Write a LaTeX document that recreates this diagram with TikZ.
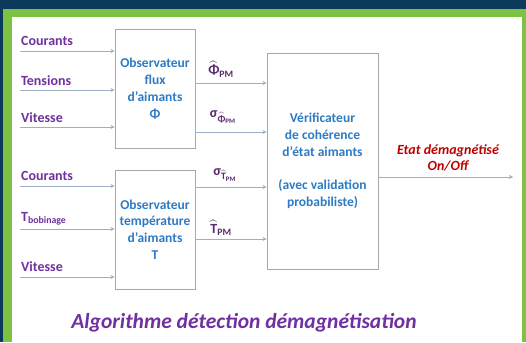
\documentclass[tikz,border=0pt]{standalone}
\usepackage{amsmath}
\usepackage{fontspec}
\setmainfont{Carlito}
\usetikzlibrary{arrows.meta}
\definecolor{navyback}{HTML}{0B3A5C}
\definecolor{greenframe}{HTML}{7DC242}
\definecolor{inpurple}{HTML}{7030A0}
\definecolor{outpurple}{HTML}{5A2A6E}
\definecolor{boxblue}{HTML}{2E7BC4}
\definecolor{statered}{HTML}{C00000}
\definecolor{linegrey}{HTML}{9DAEC8}
\definecolor{boxgrey}{HTML}{A8A8A8}
\newcommand\hatof[1]{\ensuremath{\widehat{\text{#1}}}}
\begin{document}
\begin{tikzpicture}[x=1pt, y=-1pt,
  every node/.style={align=center, font=\fontsize{13.5}{16.8}\selectfont\bfseries},
  block/.style={draw=boxgrey, thick, fill=white, text=boxblue},
  inlabel/.style={anchor=west, inpurple, inner sep=0pt, font=\fontsize{14}{16}\selectfont\bfseries},
  outlabel/.style={outpurple, inner sep=0pt, font=\fontsize{14}{16}\selectfont\bfseries},
  flow/.style={draw=linegrey, thick, -{Stealth[length=4pt, width=4pt]}}]
  \useasboundingbox (0,0) rectangle (526,342);
  \fill[navyback] (0,0) rectangle (526,342);
  \fill[greenframe] (3,9) rectangle (526,342);
  \fill[white] (12,17) rectangle (522,342);

  \node[block, minimum width=80pt, minimum height=119pt] (flux) at (155, 88.5) {Observateur\\flux\\d'aimants\\Φ};
  \node[block, minimum width=80pt, minimum height=119pt] (temp) at (155, 229.5) {Observateur\\température\\d'aimants\\T};
  \node[block, minimum width=111pt, minimum height=216pt] (verif) at (322.5, 161) {Vérificateur\\de cohérence\\d'état aimants\\[1.2em](avec validation\\probabiliste)};

  \coordinate (cour1) at (20, 51);
  \coordinate (tens) at (20, 90);
  \coordinate (vit1) at (20, 127);
  \coordinate (cour2) at (20, 186);
  \coordinate (tbob) at (20, 229);
  \coordinate (vit2) at (20, 277);
  \node[inlabel] (lcour1) at (21, 41) {Courants};
  \node[inlabel] (ltens) at (21, 81) {Tensions};
  \node[inlabel] (lvit1) at (21, 118) {Vitesse};
  \node[inlabel] (lcour2) at (21, 176) {Courants};
  \node[inlabel] (ltbob) at (21, 219) {T\textsubscript{bobinage}};
  \node[inlabel] (lvit2) at (21, 267) {Vitesse};
  \foreach \c/\b in {cour1/flux, tens/flux, vit1/flux, cour2/temp, tbob/temp, vit2/temp}
    \draw[flow] (\c) -- (\c -| \b.west);

  \draw[flow] (flux.east |- 0,83) -- (verif.west |- 0,83);
  \draw[flow] (flux.east |- 0,132) -- (verif.west |- 0,132);
  \draw[flow] (temp.east |- 0,187) -- (verif.west |- 0,187);
  \draw[flow] (temp.east |- 0,239) -- (verif.west |- 0,239);
  \node[outlabel] (phihat) at (221, 69) {\hatof{Φ}\textsubscript{PM}};
  \node[outlabel] (sigphi) at (223, 117) {σ\textsubscript{\hatof{Φ}\textsubscript{PM}}};
  \node[outlabel] (sigt) at (225, 175) {σ\textsubscript{\hatof{T}\textsubscript{PM}}};
  \node[outlabel] (that) at (221, 228) {\hatof{T}\textsubscript{PM}};

  \coordinate (etat) at (513, 177);
  \draw[flow] (verif.east |- etat) -- (etat);
  \node[statered, font=\fontsize{14}{16.5}\selectfont\bfseries\itshape] (letat) at (448, 158) {Etat démagnétisé\\On/Off};

  \node[inpurple, font=\fontsize{21.5}{24}\selectfont\bfseries\itshape] (titre) at (244, 323) {Algorithme détection démagnétisation};
\end{tikzpicture}
\end{document}
